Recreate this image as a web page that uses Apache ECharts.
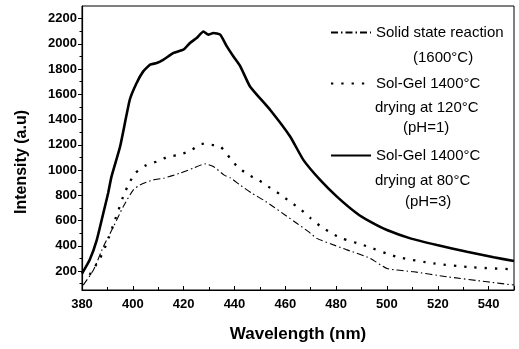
<!DOCTYPE html>
<html>
<head>
<meta charset="utf-8">
<script src="https://cdn.jsdelivr.net/npm/echarts@6/dist/echarts.min.js"></script>
<style>
  html, body { margin: 0; padding: 0; background: #fff; }
  #main { width: 519px; height: 349px; }
</style>
</head>
<body>
<div id="main"></div>
<script>
// 数据：波长 (nm) 与强度 (a.u)
var ssrX = [380.5, 384.5, 388.4, 392.4, 396.2, 400.2, 402.8, 408, 412, 418.5, 423.8, 428.5, 431.7, 436, 438.3, 442.2, 446.8, 451.4, 455.3, 459.9, 464.5, 469.1, 472.4, 478, 484, 493.4, 500, 510.6, 523.6, 539.4, 550];
var ssrY = [89, 208, 393, 552, 710, 843, 882, 922, 935, 975, 1015, 1049, 1028, 960, 940, 882, 817, 763, 710, 644, 579, 512, 459, 415, 370, 301, 221, 194, 155, 115, 89];

var sg120X = [383, 387.1, 389.7, 393, 396.2, 398.2, 400.9, 405.4, 409.4, 414, 418.5, 423.2, 427.1, 431, 434.4, 438.3, 441, 445.5, 449.4, 453.3, 457.7, 462.2, 466, 470, 474, 478.3, 482.2, 490.7, 503.9, 518.3, 534.1, 550];
var sg120Y = [170, 300, 420, 605, 790, 882, 975, 1041, 1067, 1107, 1121, 1160, 1208, 1200, 1187, 1094, 1030, 962, 922, 869, 811, 745, 690, 618, 552, 499, 459, 406, 313, 261, 229, 214];

var sg80X = [380, 383, 385.8, 388.4, 390.3, 391.6, 395, 398.8, 401.5, 404.1, 406.8, 409.4, 412.1, 416, 419.9, 422.5, 425.1, 427.8, 429.7, 431.7, 434.4, 437, 439.6, 442.3, 446.1, 454, 461.9, 467.1, 473.7, 480.3, 488.1, 493.4, 500, 509.2, 519.7, 531.5, 542, 550];
var sg80Y = [180, 287, 446, 660, 819, 948, 1187, 1557, 1690, 1782, 1835, 1848, 1875, 1928, 1954, 2007, 2046, 2098, 2073, 2086, 2073, 1980, 1900, 1822, 1663, 1478, 1266, 1081, 922, 790, 658, 591, 525, 459, 406, 353, 309, 280];

var yMajor = [200, 400, 600, 800, 1000, 1200, 1400, 1600, 1800, 2000, 2200];
var yMinor = [100, 300, 500, 700, 900, 1100, 1300, 1500, 1700, 1900, 2100];

var names = ['Solid state reaction (1600°C)', 'Sol-Gel 1400°C drying at 120°C (pH=1)', 'Sol-Gel 1400°C drying at 80°C (pH=3)'];
var firstLines = ['Solid state reaction', 'Sol-Gel 1400°C', 'Sol-Gel 1400°C'];

function pairs(xs, ys) {
    return xs.map(function (x, i) { return [x, ys[i]]; });
}

var font = '"Liberation Sans", Arial, sans-serif';
var chart = echarts.init(document.getElementById('main'));

function legendAt(i, top) {
    return {
        data: [names[i]],
        left: 330,
        top: top,
        padding: 0,
        itemWidth: 40,
        itemHeight: 14,
        itemStyle: { opacity: 0 },
        formatter: function () { return firstLines[i]; },
        textStyle: { fontFamily: font, fontSize: 15, color: '#000' }
    };
}

function extraText(str, x, y) {
    return {
        type: 'text', x: x, y: y,
        style: { text: str, font: '15px ' + font, fill: '#000', verticalAlign: 'middle' }
    };
}

chart.setOption({
    animation: false,
    grid: { left: 82, top: 6, right: 5, bottom: 59, show: true, borderColor: '#000', borderWidth: 1 },
    legend: [legendAt(0, 25), legendAt(1, 76), legendAt(2, 148)],
    graphic: [
        extraText('(1600°C)', 413, 58),
        extraText('drying at 120°C', 375, 108),
        extraText('(pH=1)', 403, 128),
        extraText('drying at 80°C', 375, 181),
        extraText('(pH=3)', 405, 202),
        {
            type: 'text', x: 22, y: 162, rotation: Math.PI / 2,
            style: { text: 'Intensity (a.u)', font: 'bold 16px ' + font, fill: '#000', align: 'center', verticalAlign: 'middle' }
        }
    ],
    xAxis: {
        type: 'value', min: 380, max: 550, interval: 20,
        name: 'Wavelength (nm)', nameLocation: 'middle', nameGap: 36,
        nameTextStyle: { fontFamily: font, fontSize: 17, fontWeight: 'bold', color: '#000' },
        axisLine: { lineStyle: { color: '#000', width: 1.2 } },
        axisTick: { inside: true, length: 4, lineStyle: { color: '#000' } },
        minorTick: { show: true, splitNumber: 2, length: 3, lineStyle: { color: '#000' } },
        axisLabel: {
            margin: 8, showMaxLabel: false, fontFamily: font, fontSize: 13, fontWeight: 'bold', color: '#000',
            formatter: function (v) { return String(v); }
        },
        splitLine: { show: false }
    },
    yAxis: [{
        type: 'value', min: 50, max: 2300,
        axisLine: { show: true, lineStyle: { color: '#000', width: 1.2 } },
        axisTick: { show: true, length: 4, customValues: yMajor, lineStyle: { color: '#000' } },
        axisLabel: {
            margin: 5, customValues: yMajor, fontFamily: font, fontSize: 13, fontWeight: 'bold', color: '#000',
            formatter: function (v) { return String(v); }
        },
        splitLine: { show: false }
    }, {
        type: 'value', min: 50, max: 2300, position: 'left',
        axisLine: { show: false },
        axisTick: { show: true, length: 2.5, customValues: yMinor, lineStyle: { color: '#000' } },
        axisLabel: { show: false },
        splitLine: { show: false }
    }],
    series: [{
        name: names[0], type: 'line', symbol: 'none', smooth: 0.2,
        lineStyle: { color: '#000', width: 1.1, type: [7, 3, 1.5, 3] },
        itemStyle: { color: '#000' },
        data: pairs(ssrX, ssrY)
    }, {
        name: names[1], type: 'line', symbol: 'none', smooth: 0.2,
        lineStyle: { color: '#000', width: 2.3, type: [2.3, 8] },
        itemStyle: { color: '#000' },
        data: pairs(sg120X, sg120Y)
    }, {
        name: names[2], type: 'line', symbol: 'none', smooth: 0.15,
        lineStyle: { color: '#000', width: 2.6 },
        itemStyle: { color: '#000' },
        data: pairs(sg80X, sg80Y)
    }]
});
</script>
</body>
</html>
